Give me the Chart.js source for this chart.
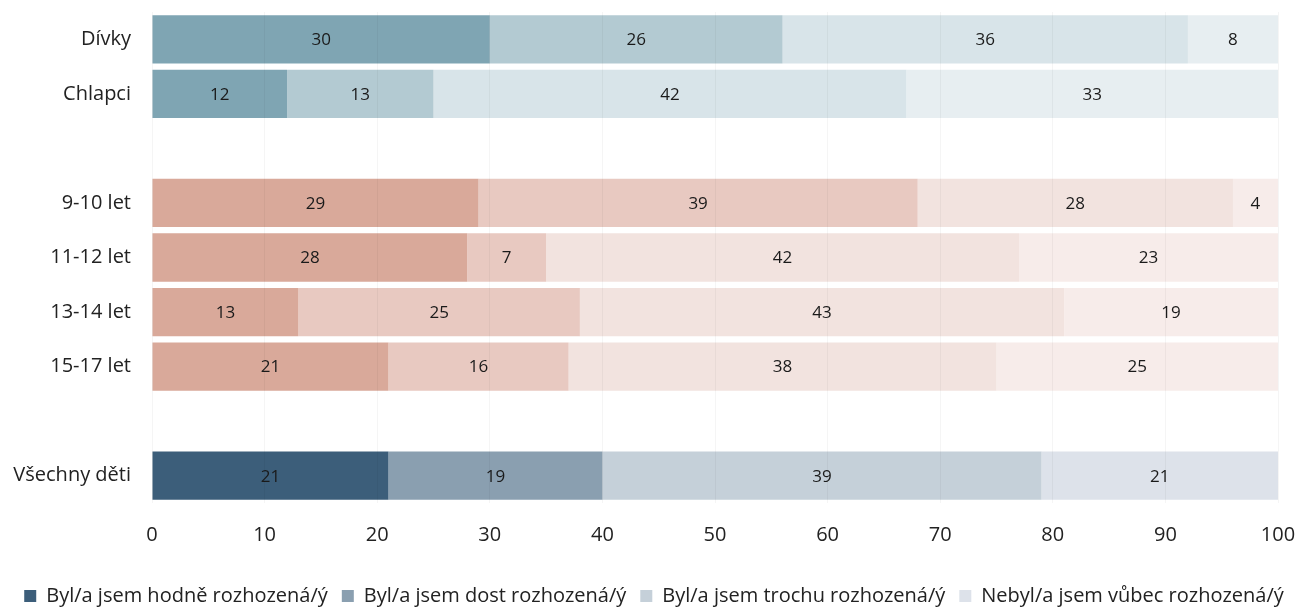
<!DOCTYPE html>
<html><head><meta charset="utf-8">
<script src="https://cdn.jsdelivr.net/npm/chart.js@4.4.1/dist/chart.umd.min.js"></script>
<style>html,body{margin:0;padding:0;background:#fff}#wrap{width:1308px;height:607px}</style>
</head><body><div id="wrap"><canvas id="c" width="1308" height="607"></canvas></div>
<script>
const categories = ["Dívky","Chlapci","","9-10 let","11-12 let","13-14 let","15-17 let","","Všechny děti"];
const seriesNames = ["Byl/a jsem hodně rozhozená/ý","Byl/a jsem dost rozhozená/ý","Byl/a jsem trochu rozhozená/ý","Nebyl/a jsem vůbec rozhozená/ý"];
const hodne   = [30,12,null,29,28,13,21,null,21];
const dost    = [26,13,null,39,7,25,16,null,19];
const trochu  = [36,42,null,28,42,43,38,null,39];
const vubec   = [8,33,null,4,23,19,25,null,21];
const xTicks = [0,10,20,30,40,50,60,70,80,90,100];

const pal = {
  gender: ["#7fa5b3","#b3cad2","#d8e4e9","#e7eef1"],
  age:    ["#d9a99a","#e8c9c1","#f2e3df","#f7ecea"],
  all:    ["#3c5e7a","#8a9fb0","#c5d0d9","#dde2ea"]
};
const groupOf = ["gender","gender","gender","age","age","age","age","all","all"];
function colors(si){ return groupOf.map(g=>pal[g][si]); }

const valuesAll = [hodne,dost,trochu,vubec];
const datasets = valuesAll.map((v,i)=>({
  label: seriesNames[i], data: v, backgroundColor: colors(i),
  borderWidth: 0, barPercentage: 0.885, categoryPercentage: 1.0
}));

const labelPlugin = {
  id:'vals',
  afterLayout(chart){
    if(chart.legend){ chart.legend.top += 5; chart.legend.bottom += 5; }
  },
  afterDatasetsDraw(chart){
    const ctx = chart.ctx;
    ctx.save();
    ctx.font = '17px "Open Sans"';
    ctx.fillStyle = '#1a1a1a';
    ctx.textAlign='center'; ctx.textBaseline='middle';
    chart.data.datasets.forEach((ds,di)=>{
      const meta = chart.getDatasetMeta(di);
      meta.data.forEach((bar,i)=>{
        const v = ds.data[i];
        if(v==null) return;
        const cx = (bar.x + bar.base)/2;
        ctx.fillText(String(v), cx, bar.y+1);
      });
    });
    ctx.restore();
  }
};

new Chart(document.getElementById('c'),{
  type:'bar',
  data:{labels:categories, datasets},
  options:{
    indexAxis:'y', responsive:false, animation:false,
    layout:{padding:{left:0,right:0,top:12,bottom:-4}},
    scales:{
      x:{stacked:true,min:0,max:100,
         afterBuildTicks(s){ s.ticks = xTicks.map(v=>({value:v})); },
         afterFit(s){ s.paddingLeft = 0; s.paddingRight = 30; },
         grid:{color:'rgba(0,0,0,0.04)',drawTicks:false,z:1},
         border:{display:false},
         ticks:{padding:20,color:'#222',font:{family:'"Open Sans"',size:20}}},
      y:{stacked:true,
         afterFit(s){ s.width = 152; s.paddingTop = 0; s.paddingBottom = 0; },
         grid:{display:false},border:{display:false},
         ticks:{padding:13,color:'#222',font:{family:'"Open Sans"',size:20}}}
    },
    plugins:{
      tooltip:{enabled:false},
      legend:{position:'bottom',
        labels:{boxWidth:12,boxHeight:12,padding:14,color:'#222',font:{family:'"Open Sans"',size:20},
          generateLabels(chart){
            return seriesNames.map((n,i)=>({text:n,fillStyle:pal.all[i],strokeStyle:pal.all[i],lineWidth:0,datasetIndex:i,fontColor:'#222'}));
          }}}
    }
  },
  plugins:[labelPlugin]
});
</script></body></html>
